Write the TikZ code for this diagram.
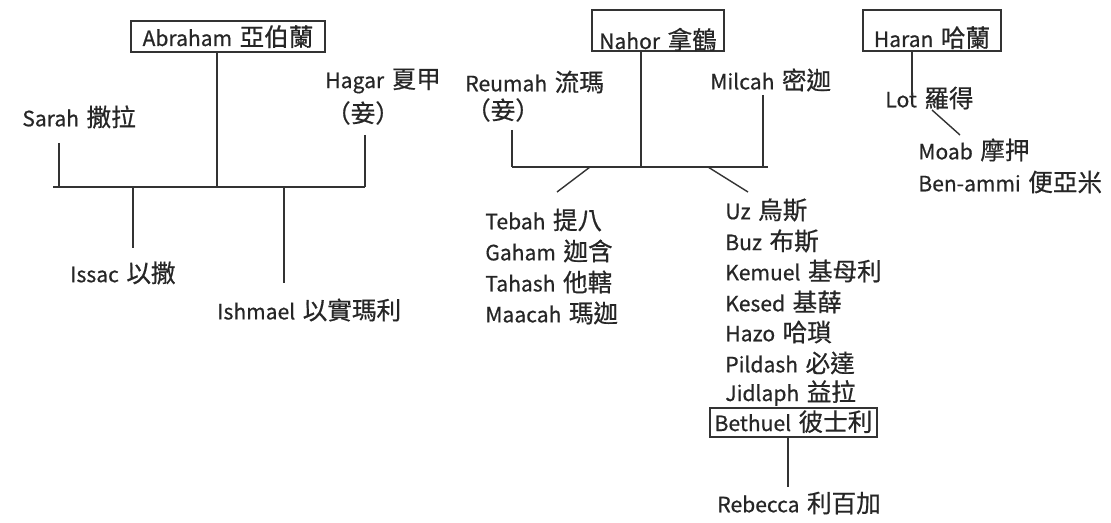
\documentclass[tikz,border=0pt]{standalone}
\usepackage{fontspec}
\setmainfont{Noto Sans CJK TC}[FakeBold=0.6, UprightFeatures={FakeBold=0.6}]
\newcommand{\person}[2]{{\fontsize{12}{14}\selectfont #1}\hspace{0.15cm}{\fontsize{14}{16}\selectfont #2}}
\newcommand{\zh}[1]{{\fontsize{14}{16}\selectfont #1}}

\begin{document}
\begin{tikzpicture}[x=0.02cm, y=-0.02cm,
    link/.style={draw=black!80, line width=0.8pt},
    nameText/.style={inner sep=0pt, anchor=west, text=black!85},
    famBox/.style={draw=black!80, line width=0.8pt, inner sep=0pt, text=black!85}]
        \useasboundingbox (0,0) rectangle (1111,523);

        % Abraham's family
        \node[famBox, minimum width=3.88cm, text height=0.5cm, text depth=0.12cm] (abraham) at (228,36.5) {\person{Abraham}{亞伯蘭}};
        \node[nameText] (sarah) at (22,117) {\person{Sarah}{撒拉}};
        \node[nameText] (hagar) at (325,81) {\person{Hagar}{夏甲}};
        \node[inner sep=0pt, text=black!85] (hagarC) at (363,113) {\zh{（妾）}};
        \node[nameText] (issac) at (70,273) {\person{Issac}{以撒}};
        \node[nameText] (ishmael) at (217,310) {\person{Ishmael}{以實瑪利}};

        \coordinate (abJ) at (217,187);
        \coordinate (abL) at (53,187);
        \coordinate (abR) at (365,187);
        \coordinate (sarahT) at (59,143);
        \coordinate (hagarT) at (365,135);
        \coordinate (issacB) at (133,248);
        \coordinate (ishmaelB) at (284,283);

        \draw[link] (abraham.south -| abJ) -- (abJ);
        \draw[link] (abL) -- (abR);
        \draw[link] (sarahT) -- (sarahT |- abL);
        \draw[link] (hagarT) -- (hagarT |- abR);
        \draw[link] (issacB |- abL) -- (issacB);
        \draw[link] (ishmaelB |- abR) -- (ishmaelB);

        % Nahor's family
        \node[famBox, minimum width=2.64cm, text height=0.78cm, text depth=0.04cm] (nahor) at (658,30.5) {\person{Nahor}{拿鶴}};
        \node[nameText] (reumah) at (465,82) {\person{Reumah}{流瑪}};
        \node[inner sep=0pt, text=black!85] (reumahC) at (503,110) {\zh{（妾）}};
        \node[nameText] (milcah) at (710,80) {\person{Milcah}{密迦}};

        \node[nameText] (tebah) at (485,220) {\person{Tebah}{提八}};
        \node[nameText] (gaham) at (485,251) {\person{Gaham}{迦含}};
        \node[nameText] (tahash) at (485,282) {\person{Tahash}{他轄}};
        \node[nameText] (maacah) at (485,313) {\person{Maacah}{瑪迦}};

        \node[nameText] (uz) at (725,210) {\person{Uz}{烏斯}};
        \node[nameText] (buz) at (725,241) {\person{Buz}{布斯}};
        \node[nameText] (kemuel) at (725,271) {\person{Kemuel}{基母利}};
        \node[nameText] (kesed) at (725,302) {\person{Kesed}{基薛}};
        \node[nameText] (hazo) at (725,332) {\person{Hazo}{哈瑣}};
        \node[nameText] (pildash) at (725,363) {\person{Pildash}{必達}};
        \node[nameText] (jidlaph) at (725,393) {\person{Jidlaph}{益拉}};
        \node[famBox, minimum width=3.34cm, text height=0.46cm, text depth=0.12cm] (bethuel) at (793.5,422.5) {\person{Bethuel}{彼士利}};
        \node[nameText] (rebecca) at (717,503) {\person{Rebecca}{利百加}};

        \coordinate (nhJ) at (641,167);
        \coordinate (nhL) at (512,167);
        \coordinate (nhR) at (768,167);
        \coordinate (reumahT) at (512,130);
        \coordinate (milcahT) at (763,95);
        \coordinate (tebahJ) at (590,167);
        \coordinate (tebahT) at (557,192);
        \coordinate (uzJ) at (708,167);
        \coordinate (uzT) at (748,192);
        \coordinate (rebeccaT) at (788,487);

        \draw[link] (nahor.south -| nhJ) -- (nhJ);
        \draw[link] (nhL) -- (nhR);
        \draw[link] (reumahT) -- (reumahT |- nhL);
        \draw[link] (milcahT) -- (milcahT |- nhR);
        \draw[link] (tebahJ) -- (tebahT);
        \draw[link] (uzJ) -- (uzT);
        \draw[link] (bethuel.south -| rebeccaT) -- (rebeccaT);

        % Haran's family
        \node[famBox, minimum width=2.76cm, text height=0.74cm, text depth=0.08cm] (haran) at (932,30.5) {\person{Haran}{哈蘭}};
        \node[nameText] (lot) at (885,98) {\person{Lot}{羅得}};
        \node[nameText] (moab) at (918,150) {\person{Moab}{摩押}};
        \node[nameText] (benammi) at (918,182) {\person{Ben-ammi}{便亞米}};

        \coordinate (lotT) at (912,95);
        \coordinate (lotD) at (932,110);
        \coordinate (moabT) at (960,135);

        \draw[link] (haran.south -| lotT) -- (lotT);
        \draw[link] (lotD) -- (moabT);
      \end{tikzpicture}
\end{document}
